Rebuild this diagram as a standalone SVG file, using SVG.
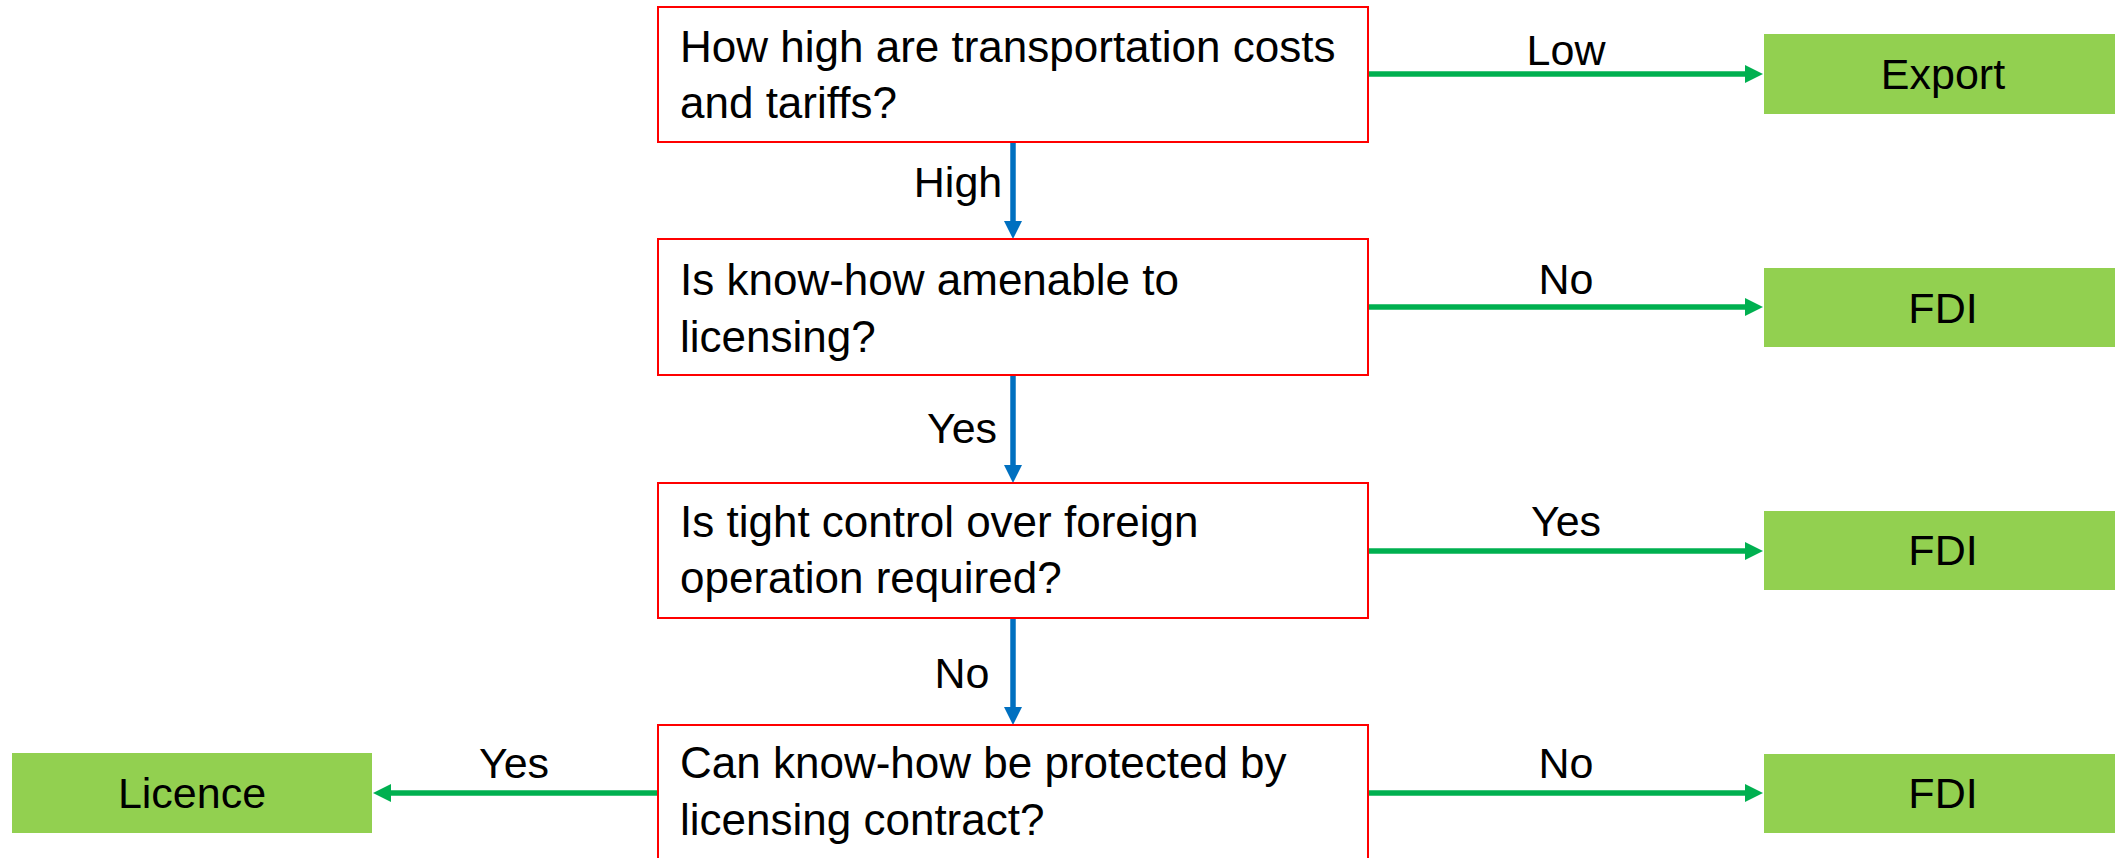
<svg xmlns="http://www.w3.org/2000/svg" width="2115" height="858" viewBox="0 0 2115 858">
<style>
.q{fill:#fff;stroke:#ff0000;stroke-width:2}
.r{fill:#92d050}
.t{font-family:"Liberation Sans",Arial,sans-serif;font-size:43px;fill:#000}
.qt{font-size:44px}
.m{text-anchor:middle}
.g{stroke:#00b050;stroke-width:5.5;fill:none}
.b{stroke:#0070c0;stroke-width:5.5;fill:none}
</style>
<defs>
<marker id="ag" markerUnits="userSpaceOnUse" markerWidth="20" markerHeight="20" refX="1" refY="9" orient="auto" overflow="visible">
<path d="M0,0 L18,9 L0,18 z" fill="#00b050"/>
</marker>
<marker id="ab" markerUnits="userSpaceOnUse" markerWidth="20" markerHeight="20" refX="1" refY="9" orient="auto" overflow="visible">
<path d="M0,0 L18,9 L0,18 z" fill="#0070c0"/>
</marker>
</defs>
<rect width="2115" height="858" fill="#fff"/>
<g id="connectors">
<line class="g" x1="1368" y1="74" x2="1746" y2="74" marker-end="url(#ag)"/>
<line class="g" x1="1368" y1="307" x2="1746" y2="307" marker-end="url(#ag)"/>
<line class="g" x1="1368" y1="551" x2="1746" y2="551" marker-end="url(#ag)"/>
<line class="g" x1="1368" y1="793" x2="1746" y2="793" marker-end="url(#ag)"/>
<line class="g" x1="658" y1="793" x2="390" y2="793" marker-end="url(#ag)"/>
<line class="b" x1="1013" y1="142" x2="1013" y2="222" marker-end="url(#ab)"/>
<line class="b" x1="1013" y1="376" x2="1013" y2="466" marker-end="url(#ab)"/>
<line class="b" x1="1013" y1="619" x2="1013" y2="708" marker-end="url(#ab)"/>
<text class="t m" x="1566" y="65">Low</text>
<text class="t m" x="1566" y="294">No</text>
<text class="t m" x="1566" y="536">Yes</text>
<text class="t m" x="1566" y="778">No</text>
<text class="t m" x="514" y="778">Yes</text>
<text class="t m" x="958" y="197">High</text>
<text class="t m" x="962" y="443">Yes</text>
<text class="t m" x="962" y="688">No</text>
</g>
<g id="q1">
<rect class="q" x="658" y="7" width="710" height="135"/>
<text class="t qt" x="680" y="62">How high are transportation costs</text>
<text class="t qt" x="680" y="118">and tariffs?</text>
</g>
<g id="q2">
<rect class="q" x="658" y="239" width="710" height="136"/>
<text class="t qt" x="680" y="295">Is know-how amenable to</text>
<text class="t qt" x="680" y="352">licensing?</text>
</g>
<g id="q3">
<rect class="q" x="658" y="483" width="710" height="135"/>
<text class="t qt" x="680" y="537">Is tight control over foreign</text>
<text class="t qt" x="680" y="593">operation required?</text>
</g>
<g id="q4">
<rect class="q" x="658" y="725" width="710" height="140"/>
<text class="t qt" x="680" y="778">Can know-how be protected by</text>
<text class="t qt" x="680" y="835">licensing contract?</text>
</g>
<g id="export">
<rect class="r" x="1764" y="34" width="360" height="80"/>
<text class="t m" x="1943" y="89">Export</text>
</g>
<g id="fdi1">
<rect class="r" x="1764" y="268" width="360" height="79"/>
<text class="t m" x="1943" y="323">FDI</text>
</g>
<g id="fdi2">
<rect class="r" x="1764" y="511" width="360" height="79"/>
<text class="t m" x="1943" y="565">FDI</text>
</g>
<g id="fdi3">
<rect class="r" x="1764" y="754" width="360" height="79"/>
<text class="t m" x="1943" y="808">FDI</text>
</g>
<g id="licence">
<rect class="r" x="12" y="753" width="360" height="80"/>
<text class="t m" x="192" y="808">Licence</text>
</g>
</svg>
